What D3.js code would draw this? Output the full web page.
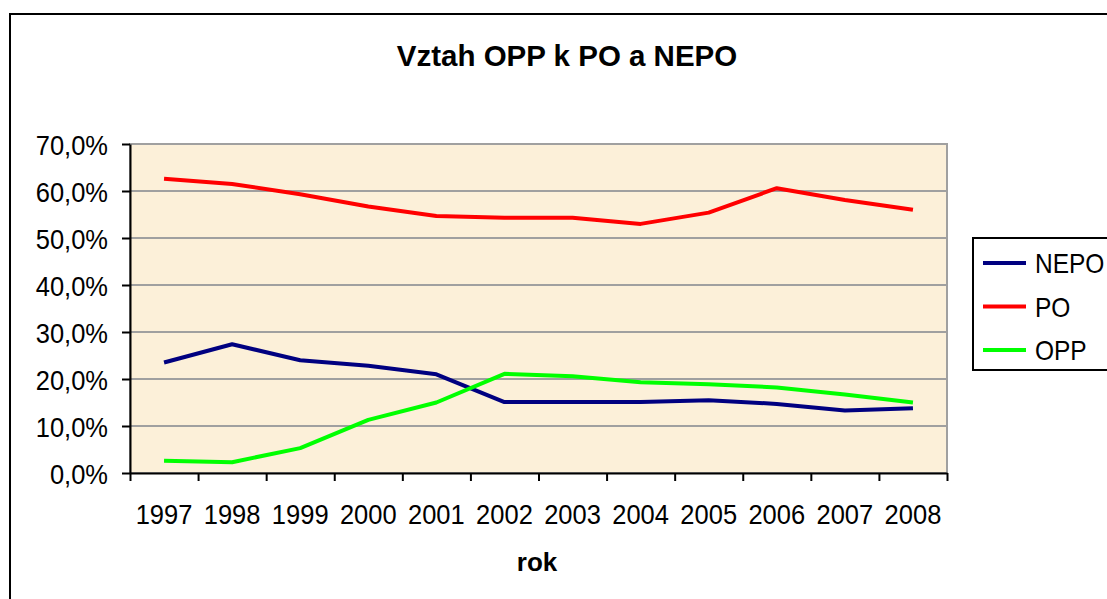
<!DOCTYPE html>
<html>
<head>
<meta charset="utf-8">
<script src="https://cdn.jsdelivr.net/npm/d3@7"></script>
<style>
  body { margin: 0; background: #fff; }
  svg { display: block; font-family: "Liberation Sans", Arial, sans-serif; }
  .axis path, .axis line { stroke: #000; stroke-width: 2; }
  .axis text { fill: #000; }
  .tall { transform-box: fill-box; transform-origin: 50% 50%; transform: scaleY(1.12); }
  .taller { transform-box: fill-box; transform-origin: 50% 50%; transform: scaleY(1.16); }
</style>
</head>
<body>
<div id="graph"></div>
<script>
var years = ["1997", "1998", "1999", "2000", "2001", "2002", "2003", "2004", "2005", "2006", "2007", "2008"];
var nepo = [0.235, 0.274, 0.240, 0.228, 0.210, 0.151, 0.151, 0.151, 0.155, 0.147, 0.133, 0.138];
var po = [0.626, 0.615, 0.593, 0.567, 0.547, 0.543, 0.543, 0.530, 0.554, 0.606, 0.581, 0.560];
var opp = [0.026, 0.023, 0.053, 0.113, 0.150, 0.211, 0.206, 0.193, 0.189, 0.182, 0.167, 0.150];
var yTicks = [0, 0.1, 0.2, 0.3, 0.4, 0.5, 0.6, 0.7];

var seriesNames = ["NEPO", "PO", "OPP"];
var seriesValues = [nepo, po, opp];
var z = d3.scaleOrdinal()
  .domain(seriesNames)
  .range(["#000080", "#ff0000", "#00ff00"]);

var width = 1107, height = 599;
var plot = { left: 130, top: 144, right: 947, bottom: 473 };

var czech = d3.formatLocale({ decimal: ",", thousands: " ", grouping: [3], currency: ["", " Kč"] });
var pct = czech.format(".1%");

var svg = d3.select("#graph").append("svg")
  .attr("width", width)
  .attr("height", height);

// outer frame
svg.append("rect")
  .attr("x", 10).attr("y", 14)
  .attr("width", width + 20).attr("height", height + 20)
  .attr("fill", "#fff")
  .attr("stroke", "#000")
  .attr("stroke-width", 2);

svg.append("text")
  .attr("x", 567)
  .attr("y", 66)
  .attr("text-anchor", "middle")
  .attr("font-size", 29.5)
  .attr("font-weight", "bold")
  .text("Vztah OPP k PO a NEPO");

var xScale = d3.scaleBand().domain(years).range([plot.left, plot.right]);
var xEdge = d3.scaleLinear().domain([0, years.length]).range([plot.left, plot.right]);
var yScale = d3.scaleLinear().domain([0, 0.7]).range([plot.bottom, plot.top]);

// plot background
svg.append("rect")
  .attr("x", plot.left).attr("y", plot.top)
  .attr("width", plot.right - plot.left)
  .attr("height", plot.bottom - plot.top)
  .attr("fill", "#fcf0d9")
  .attr("stroke", "#a0a0a0")
  .attr("stroke-width", 2);

// gridlines
svg.append("g")
  .selectAll("line")
  .data(yTicks.slice(1))
  .enter().append("line")
  .attr("x1", plot.left).attr("x2", plot.right)
  .attr("y1", function(d) { return yScale(d); })
  .attr("y2", function(d) { return yScale(d); })
  .attr("stroke", "#a0a0a0")
  .attr("stroke-width", 2);

// y axis
svg.append("g")
  .attr("class", "axis y")
  .attr("transform", "translate(" + [plot.left, 0] + ")")
  .call(d3.axisLeft(yScale).tickValues(yTicks).tickFormat(pct).tickSizeInner(8).tickSizeOuter(0).tickPadding(14))
  .call(function(g) {
    g.selectAll("text").attr("font-size", 25.5).attr("dy", "0.36em").classed("tall", true);
  });

// x axis: ticks at category edges, labels at centres
svg.append("g")
  .attr("class", "axis x")
  .attr("transform", "translate(" + [0, plot.bottom] + ")")
  .call(d3.axisBottom(xEdge).ticks(years.length).tickFormat("").tickSizeInner(8).tickSizeOuter(0));

svg.append("g")
  .attr("class", "axis xlabels")
  .attr("transform", "translate(" + [0, plot.bottom] + ")")
  .call(d3.axisBottom(xScale).tickSize(0).tickPadding(32))
  .call(function(g) {
    g.select(".domain").remove();
    g.selectAll("text").attr("font-size", 25.5).classed("tall", true);
  });

svg.append("text")
  .attr("x", 537)
  .attr("y", 571)
  .attr("text-anchor", "middle")
  .attr("font-size", 26)
  .attr("font-weight", "bold")
  .text("rok");

// lines
var line = d3.line()
  .x(function(d, i) { return xScale(years[i]) + xScale.bandwidth() / 2; })
  .y(function(d) { return yScale(d); });

svg.append("g")
  .selectAll("path")
  .data(seriesNames)
  .enter().append("path")
  .attr("d", function(d, i) { return line(seriesValues[i]); })
  .attr("fill", "none")
  .attr("stroke", z)
  .attr("stroke-width", 4)
  .attr("stroke-linejoin", "round");

// legend
var legend = svg.append("g").attr("class", "legend");
legend.append("rect")
  .attr("x", 973).attr("y", 238)
  .attr("width", 160).attr("height", 132)
  .attr("fill", "#fff")
  .attr("stroke", "#000")
  .attr("stroke-width", 2);

var entry = legend.selectAll("g")
  .data(seriesNames)
  .enter().append("g")
  .attr("transform", function(d, i) { return "translate(" + [983, 263 + i * 43.5] + ")"; });

entry.append("line")
  .attr("x1", 0).attr("x2", 43)
  .attr("stroke", z)
  .attr("stroke-width", 4);

entry.append("text")
  .attr("x", 52)
  .attr("dy", "0.36em")
  .attr("font-size", 24.5)
  .classed("taller", true)
  .text(function(d) { return d; });
</script>
</body>
</html>
